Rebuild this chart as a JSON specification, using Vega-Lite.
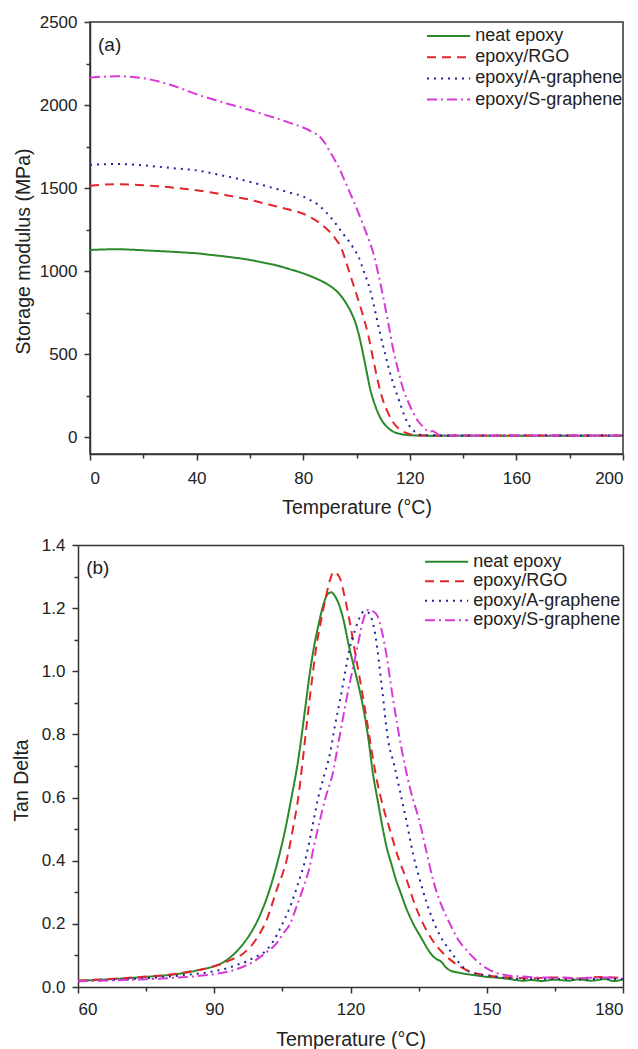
{
  "$schema": "https://vega.github.io/schema/vega-lite/v6.json",
  "background": "white",
  "padding": {"left": 11, "top": 12, "right": 5, "bottom": 5},
  "config": {
    "font": "Liberation Sans",
    "view": {"stroke": "#333333", "strokeWidth": 1.5},
    "axis": {
      "grid": false,
      "domainColor": "#333333",
      "domainWidth": 1.5,
      "tickColor": "#333333",
      "tickWidth": 1.5,
      "tickSize": 6,
      "labelFont": "Liberation Sans",
      "labelFontSize": 17,
      "labelColor": "#222222",
      "titleFont": "Liberation Sans",
      "titleFontSize": 19.5,
      "titleFontWeight": "normal",
      "titleColor": "#222222"
    },
    "axisX": {"labelPadding": 10, "titlePadding": 12},
    "axisY": {"labelPadding": 7},
    "legend": {
      "labelFont": "Liberation Sans",
      "labelFontSize": 18,
      "labelColor": "#222222",
      "symbolType": "M-2.7,0H2.7",
      "symbolSize": 256,
      "symbolStrokeWidth": 2,
      "padding": 0,
      "labelOffset": 17.6,
      "title": null
    }
  },
  "resolve": {"scale": {"color": "independent", "strokeDash": "independent"}},
  "datasets": {
    "sm": [
      {"s":"neat epoxy","T":0,"V":1128},{"s":"neat epoxy","T":5,"V":1131},{"s":"neat epoxy","T":10,"V":1133},{"s":"neat epoxy","T":15,"V":1130},{"s":"neat epoxy","T":20,"V":1126},{"s":"neat epoxy","T":25,"V":1122},{"s":"neat epoxy","T":30,"V":1118},{"s":"neat epoxy","T":35,"V":1113},{"s":"neat epoxy","T":40,"V":1108},{"s":"neat epoxy","T":45,"V":1099},{"s":"neat epoxy","T":50,"V":1090},{"s":"neat epoxy","T":55,"V":1080},{"s":"neat epoxy","T":60,"V":1068},{"s":"neat epoxy","T":65,"V":1052},{"s":"neat epoxy","T":70,"V":1035},{"s":"neat epoxy","T":75,"V":1012},{"s":"neat epoxy","T":80,"V":987},{"s":"neat epoxy","T":84,"V":962},{"s":"neat epoxy","T":87,"V":940},{"s":"neat epoxy","T":90,"V":912},{"s":"neat epoxy","T":92,"V":888},{"s":"neat epoxy","T":94,"V":855},{"s":"neat epoxy","T":96,"V":810},{"s":"neat epoxy","T":98,"V":752},{"s":"neat epoxy","T":99.5,"V":695},{"s":"neat epoxy","T":101,"V":610},{"s":"neat epoxy","T":102.5,"V":500},{"s":"neat epoxy","T":104,"V":380},{"s":"neat epoxy","T":105,"V":300},{"s":"neat epoxy","T":106.5,"V":215},{"s":"neat epoxy","T":108,"V":150},{"s":"neat epoxy","T":110,"V":90},{"s":"neat epoxy","T":112,"V":55},{"s":"neat epoxy","T":114,"V":33},{"s":"neat epoxy","T":116,"V":22},{"s":"neat epoxy","T":118,"V":16},{"s":"neat epoxy","T":120,"V":13},{"s":"neat epoxy","T":125,"V":11},{"s":"neat epoxy","T":130,"V":10},{"s":"neat epoxy","T":140,"V":10},{"s":"neat epoxy","T":150,"V":10},{"s":"neat epoxy","T":160,"V":10},{"s":"neat epoxy","T":170,"V":10},{"s":"neat epoxy","T":180,"V":10},{"s":"neat epoxy","T":190,"V":10},{"s":"neat epoxy","T":200,"V":10},
      {"s":"epoxy/RGO","T":0,"V":1515},{"s":"epoxy/RGO","T":5,"V":1521},{"s":"epoxy/RGO","T":10,"V":1523},{"s":"epoxy/RGO","T":15,"V":1522},{"s":"epoxy/RGO","T":20,"V":1518},{"s":"epoxy/RGO","T":25,"V":1512},{"s":"epoxy/RGO","T":30,"V":1505},{"s":"epoxy/RGO","T":35,"V":1497},{"s":"epoxy/RGO","T":40,"V":1488},{"s":"epoxy/RGO","T":45,"V":1475},{"s":"epoxy/RGO","T":50,"V":1462},{"s":"epoxy/RGO","T":55,"V":1446},{"s":"epoxy/RGO","T":60,"V":1430},{"s":"epoxy/RGO","T":65,"V":1410},{"s":"epoxy/RGO","T":70,"V":1390},{"s":"epoxy/RGO","T":75,"V":1370},{"s":"epoxy/RGO","T":80,"V":1346},{"s":"epoxy/RGO","T":83,"V":1322},{"s":"epoxy/RGO","T":86,"V":1292},{"s":"epoxy/RGO","T":88,"V":1266},{"s":"epoxy/RGO","T":90,"V":1236},{"s":"epoxy/RGO","T":92,"V":1198},{"s":"epoxy/RGO","T":94.4,"V":1135},{"s":"epoxy/RGO","T":96,"V":1060},{"s":"epoxy/RGO","T":98,"V":960},{"s":"epoxy/RGO","T":100,"V":860},{"s":"epoxy/RGO","T":102.5,"V":730},{"s":"epoxy/RGO","T":104.5,"V":610},{"s":"epoxy/RGO","T":106.3,"V":467},{"s":"epoxy/RGO","T":108.8,"V":287},{"s":"epoxy/RGO","T":110,"V":220},{"s":"epoxy/RGO","T":111.3,"V":167},{"s":"epoxy/RGO","T":113,"V":110},{"s":"epoxy/RGO","T":115,"V":66},{"s":"epoxy/RGO","T":117,"V":40},{"s":"epoxy/RGO","T":118.8,"V":26},{"s":"epoxy/RGO","T":121,"V":16},{"s":"epoxy/RGO","T":123,"V":12},{"s":"epoxy/RGO","T":130,"V":11},{"s":"epoxy/RGO","T":140,"V":11},{"s":"epoxy/RGO","T":150,"V":11},{"s":"epoxy/RGO","T":160,"V":11},{"s":"epoxy/RGO","T":170,"V":11},{"s":"epoxy/RGO","T":180,"V":11},{"s":"epoxy/RGO","T":190,"V":11},{"s":"epoxy/RGO","T":200,"V":11},
      {"s":"epoxy/A-graphene","T":0,"V":1640},{"s":"epoxy/A-graphene","T":5,"V":1644},{"s":"epoxy/A-graphene","T":10,"V":1645},{"s":"epoxy/A-graphene","T":15,"V":1643},{"s":"epoxy/A-graphene","T":20,"V":1637},{"s":"epoxy/A-graphene","T":25,"V":1630},{"s":"epoxy/A-graphene","T":30,"V":1622},{"s":"epoxy/A-graphene","T":35,"V":1615},{"s":"epoxy/A-graphene","T":40,"V":1607},{"s":"epoxy/A-graphene","T":45,"V":1592},{"s":"epoxy/A-graphene","T":50,"V":1575},{"s":"epoxy/A-graphene","T":55,"V":1558},{"s":"epoxy/A-graphene","T":60,"V":1538},{"s":"epoxy/A-graphene","T":65,"V":1517},{"s":"epoxy/A-graphene","T":70,"V":1495},{"s":"epoxy/A-graphene","T":75,"V":1473},{"s":"epoxy/A-graphene","T":80,"V":1450},{"s":"epoxy/A-graphene","T":83,"V":1425},{"s":"epoxy/A-graphene","T":86,"V":1395},{"s":"epoxy/A-graphene","T":88,"V":1365},{"s":"epoxy/A-graphene","T":90,"V":1330},{"s":"epoxy/A-graphene","T":92,"V":1290},{"s":"epoxy/A-graphene","T":93.8,"V":1250},{"s":"epoxy/A-graphene","T":95.7,"V":1210},{"s":"epoxy/A-graphene","T":97.6,"V":1170},{"s":"epoxy/A-graphene","T":99,"V":1135},{"s":"epoxy/A-graphene","T":100.7,"V":1090},{"s":"epoxy/A-graphene","T":102.5,"V":1010},{"s":"epoxy/A-graphene","T":105.1,"V":888},{"s":"epoxy/A-graphene","T":107,"V":760},{"s":"epoxy/A-graphene","T":108.8,"V":628},{"s":"epoxy/A-graphene","T":110.7,"V":505},{"s":"epoxy/A-graphene","T":112.6,"V":387},{"s":"epoxy/A-graphene","T":114.5,"V":290},{"s":"epoxy/A-graphene","T":116.3,"V":207},{"s":"epoxy/A-graphene","T":118,"V":130},{"s":"epoxy/A-graphene","T":120,"V":66},{"s":"epoxy/A-graphene","T":122,"V":32},{"s":"epoxy/A-graphene","T":123.8,"V":16},{"s":"epoxy/A-graphene","T":126,"V":12},{"s":"epoxy/A-graphene","T":130,"V":11},{"s":"epoxy/A-graphene","T":140,"V":11},{"s":"epoxy/A-graphene","T":160,"V":11},{"s":"epoxy/A-graphene","T":180,"V":11},{"s":"epoxy/A-graphene","T":200,"V":11},
      {"s":"epoxy/S-graphene","T":0,"V":2165},{"s":"epoxy/S-graphene","T":5,"V":2171},{"s":"epoxy/S-graphene","T":10,"V":2173},{"s":"epoxy/S-graphene","T":15,"V":2170},{"s":"epoxy/S-graphene","T":20,"V":2162},{"s":"epoxy/S-graphene","T":25,"V":2145},{"s":"epoxy/S-graphene","T":30,"V":2122},{"s":"epoxy/S-graphene","T":35,"V":2095},{"s":"epoxy/S-graphene","T":40,"V":2065},{"s":"epoxy/S-graphene","T":45,"V":2040},{"s":"epoxy/S-graphene","T":50,"V":2015},{"s":"epoxy/S-graphene","T":55,"V":1993},{"s":"epoxy/S-graphene","T":60,"V":1970},{"s":"epoxy/S-graphene","T":65,"V":1945},{"s":"epoxy/S-graphene","T":70,"V":1920},{"s":"epoxy/S-graphene","T":75,"V":1893},{"s":"epoxy/S-graphene","T":80,"V":1865},{"s":"epoxy/S-graphene","T":83,"V":1842},{"s":"epoxy/S-graphene","T":86,"V":1812},{"s":"epoxy/S-graphene","T":88,"V":1775},{"s":"epoxy/S-graphene","T":90,"V":1720},{"s":"epoxy/S-graphene","T":92,"V":1665},{"s":"epoxy/S-graphene","T":93.8,"V":1610},{"s":"epoxy/S-graphene","T":95.7,"V":1540},{"s":"epoxy/S-graphene","T":97.6,"V":1470},{"s":"epoxy/S-graphene","T":99.5,"V":1400},{"s":"epoxy/S-graphene","T":101.3,"V":1329},{"s":"epoxy/S-graphene","T":103.2,"V":1250},{"s":"epoxy/S-graphene","T":105.1,"V":1169},{"s":"epoxy/S-graphene","T":106.3,"V":1110},{"s":"epoxy/S-graphene","T":108.1,"V":990},{"s":"epoxy/S-graphene","T":110,"V":846},{"s":"epoxy/S-graphene","T":111.9,"V":690},{"s":"epoxy/S-graphene","T":113.8,"V":527},{"s":"epoxy/S-graphene","T":115.7,"V":400},{"s":"epoxy/S-graphene","T":117.6,"V":287},{"s":"epoxy/S-graphene","T":119.5,"V":210},{"s":"epoxy/S-graphene","T":121.3,"V":148},{"s":"epoxy/S-graphene","T":123,"V":100},{"s":"epoxy/S-graphene","T":125,"V":64},{"s":"epoxy/S-graphene","T":126.5,"V":40},{"s":"epoxy/S-graphene","T":127.6,"V":34},{"s":"epoxy/S-graphene","T":128.5,"V":38},{"s":"epoxy/S-graphene","T":129.5,"V":30},{"s":"epoxy/S-graphene","T":131,"V":15},{"s":"epoxy/S-graphene","T":135,"V":12},{"s":"epoxy/S-graphene","T":140,"V":12},{"s":"epoxy/S-graphene","T":160,"V":12},{"s":"epoxy/S-graphene","T":180,"V":12},{"s":"epoxy/S-graphene","T":200,"V":12}
    ],
    "td": [
      {"s":"neat epoxy","T":60,"V":0.02},{"s":"neat epoxy","T":65,"V":0.023},{"s":"neat epoxy","T":70,"V":0.027},{"s":"neat epoxy","T":75,"V":0.032},{"s":"neat epoxy","T":80,"V":0.038},{"s":"neat epoxy","T":84,"V":0.046},{"s":"neat epoxy","T":87,"V":0.055},{"s":"neat epoxy","T":90,"V":0.066},{"s":"neat epoxy","T":92,"V":0.078},{"s":"neat epoxy","T":94,"V":0.1},{"s":"neat epoxy","T":96,"V":0.13},{"s":"neat epoxy","T":98,"V":0.17},{"s":"neat epoxy","T":100,"V":0.225},{"s":"neat epoxy","T":102,"V":0.3},{"s":"neat epoxy","T":104,"V":0.4},{"s":"neat epoxy","T":105.5,"V":0.49},{"s":"neat epoxy","T":107,"V":0.6},{"s":"neat epoxy","T":108.5,"V":0.72},{"s":"neat epoxy","T":110,"V":0.88},{"s":"neat epoxy","T":111,"V":0.99},{"s":"neat epoxy","T":112,"V":1.08},{"s":"neat epoxy","T":113,"V":1.15},{"s":"neat epoxy","T":114,"V":1.21},{"s":"neat epoxy","T":115,"V":1.245},{"s":"neat epoxy","T":115.8,"V":1.25},{"s":"neat epoxy","T":116.5,"V":1.24},{"s":"neat epoxy","T":117.5,"V":1.21},{"s":"neat epoxy","T":118.5,"V":1.16},{"s":"neat epoxy","T":119.5,"V":1.09},{"s":"neat epoxy","T":121,"V":1.0},{"s":"neat epoxy","T":122,"V":0.94},{"s":"neat epoxy","T":123,"V":0.87},{"s":"neat epoxy","T":124,"V":0.78},{"s":"neat epoxy","T":125,"V":0.67},{"s":"neat epoxy","T":126,"V":0.59},{"s":"neat epoxy","T":127,"V":0.51},{"s":"neat epoxy","T":128,"V":0.44},{"s":"neat epoxy","T":129,"V":0.39},{"s":"neat epoxy","T":130,"V":0.34},{"s":"neat epoxy","T":131,"V":0.3},{"s":"neat epoxy","T":132,"V":0.26},{"s":"neat epoxy","T":133,"V":0.225},{"s":"neat epoxy","T":134,"V":0.195},{"s":"neat epoxy","T":135,"V":0.17},{"s":"neat epoxy","T":136,"V":0.145},{"s":"neat epoxy","T":137,"V":0.12},{"s":"neat epoxy","T":138,"V":0.1},{"s":"neat epoxy","T":139,"V":0.088},{"s":"neat epoxy","T":140,"V":0.08},{"s":"neat epoxy","T":141,"V":0.062},{"s":"neat epoxy","T":142,"V":0.052},{"s":"neat epoxy","T":144,"V":0.045},{"s":"neat epoxy","T":146,"V":0.04},{"s":"neat epoxy","T":148,"V":0.036},{"s":"neat epoxy","T":150,"V":0.032},{"s":"neat epoxy","T":152,"V":0.03},{"s":"neat epoxy","T":155,"V":0.025},{"s":"neat epoxy","T":158,"V":0.02},{"s":"neat epoxy","T":160,"V":0.022},{"s":"neat epoxy","T":162,"V":0.019},{"s":"neat epoxy","T":165,"V":0.023},{"s":"neat epoxy","T":168,"V":0.02},{"s":"neat epoxy","T":170,"V":0.024},{"s":"neat epoxy","T":173,"V":0.02},{"s":"neat epoxy","T":176,"V":0.025},{"s":"neat epoxy","T":178,"V":0.019},{"s":"neat epoxy","T":180,"V":0.024},
      {"s":"epoxy/RGO","T":60,"V":0.02},{"s":"epoxy/RGO","T":65,"V":0.024},{"s":"epoxy/RGO","T":70,"V":0.028},{"s":"epoxy/RGO","T":75,"V":0.033},{"s":"epoxy/RGO","T":80,"V":0.039},{"s":"epoxy/RGO","T":85,"V":0.05},{"s":"epoxy/RGO","T":88,"V":0.058},{"s":"epoxy/RGO","T":90,"V":0.066},{"s":"epoxy/RGO","T":92,"V":0.075},{"s":"epoxy/RGO","T":93.5,"V":0.085},{"s":"epoxy/RGO","T":96.4,"V":0.106},{"s":"epoxy/RGO","T":99.3,"V":0.153},{"s":"epoxy/RGO","T":101.5,"V":0.211},{"s":"epoxy/RGO","T":103.7,"V":0.306},{"s":"epoxy/RGO","T":105.9,"V":0.4},{"s":"epoxy/RGO","T":107.4,"V":0.507},{"s":"epoxy/RGO","T":108.5,"V":0.6},{"s":"epoxy/RGO","T":109.5,"V":0.72},{"s":"epoxy/RGO","T":110.5,"V":0.85},{"s":"epoxy/RGO","T":111.5,"V":0.97},{"s":"epoxy/RGO","T":112.5,"V":1.08},{"s":"epoxy/RGO","T":113.5,"V":1.16},{"s":"epoxy/RGO","T":114.5,"V":1.23},{"s":"epoxy/RGO","T":115.5,"V":1.29},{"s":"epoxy/RGO","T":116.3,"V":1.315},{"s":"epoxy/RGO","T":117,"V":1.31},{"s":"epoxy/RGO","T":117.8,"V":1.29},{"s":"epoxy/RGO","T":118.8,"V":1.23},{"s":"epoxy/RGO","T":119.9,"V":1.152},{"s":"epoxy/RGO","T":121,"V":1.06},{"s":"epoxy/RGO","T":122.1,"V":0.972},{"s":"epoxy/RGO","T":123.2,"V":0.88},{"s":"epoxy/RGO","T":124.3,"V":0.78},{"s":"epoxy/RGO","T":125.8,"V":0.655},{"s":"epoxy/RGO","T":127.2,"V":0.57},{"s":"epoxy/RGO","T":128.7,"V":0.497},{"s":"epoxy/RGO","T":130.5,"V":0.41},{"s":"epoxy/RGO","T":132.4,"V":0.338},{"s":"epoxy/RGO","T":134.2,"V":0.26},{"s":"epoxy/RGO","T":136,"V":0.2},{"s":"epoxy/RGO","T":138.2,"V":0.145},{"s":"epoxy/RGO","T":140.4,"V":0.107},{"s":"epoxy/RGO","T":143,"V":0.075},{"s":"epoxy/RGO","T":145.6,"V":0.053},{"s":"epoxy/RGO","T":148,"V":0.042},{"s":"epoxy/RGO","T":151,"V":0.035},{"s":"epoxy/RGO","T":155,"V":0.03},{"s":"epoxy/RGO","T":160,"V":0.028},{"s":"epoxy/RGO","T":165,"V":0.03},{"s":"epoxy/RGO","T":170,"V":0.027},{"s":"epoxy/RGO","T":175,"V":0.032},{"s":"epoxy/RGO","T":178,"V":0.03},{"s":"epoxy/RGO","T":180,"V":0.028},
      {"s":"epoxy/A-graphene","T":60,"V":0.018},{"s":"epoxy/A-graphene","T":70,"V":0.024},{"s":"epoxy/A-graphene","T":80,"V":0.033},{"s":"epoxy/A-graphene","T":85,"V":0.04},{"s":"epoxy/A-graphene","T":90,"V":0.05},{"s":"epoxy/A-graphene","T":93,"V":0.06},{"s":"epoxy/A-graphene","T":95,"V":0.07},{"s":"epoxy/A-graphene","T":97,"V":0.08},{"s":"epoxy/A-graphene","T":99,"V":0.095},{"s":"epoxy/A-graphene","T":101,"V":0.11},{"s":"epoxy/A-graphene","T":103,"V":0.145},{"s":"epoxy/A-graphene","T":105,"V":0.2},{"s":"epoxy/A-graphene","T":107,"V":0.265},{"s":"epoxy/A-graphene","T":108.5,"V":0.33},{"s":"epoxy/A-graphene","T":110,"V":0.4},{"s":"epoxy/A-graphene","T":111.5,"V":0.5},{"s":"epoxy/A-graphene","T":112.9,"V":0.6},{"s":"epoxy/A-graphene","T":114.2,"V":0.67},{"s":"epoxy/A-graphene","T":115.5,"V":0.74},{"s":"epoxy/A-graphene","T":116.6,"V":0.83},{"s":"epoxy/A-graphene","T":117.7,"V":0.909},{"s":"epoxy/A-graphene","T":118.8,"V":0.995},{"s":"epoxy/A-graphene","T":119.9,"V":1.078},{"s":"epoxy/A-graphene","T":121,"V":1.13},{"s":"epoxy/A-graphene","T":122,"V":1.17},{"s":"epoxy/A-graphene","T":123,"V":1.19},{"s":"epoxy/A-graphene","T":124,"V":1.185},{"s":"epoxy/A-graphene","T":125.4,"V":1.12},{"s":"epoxy/A-graphene","T":126.9,"V":0.951},{"s":"epoxy/A-graphene","T":128.3,"V":0.78},{"s":"epoxy/A-graphene","T":129.5,"V":0.71},{"s":"epoxy/A-graphene","T":130.9,"V":0.62},{"s":"epoxy/A-graphene","T":132.4,"V":0.52},{"s":"epoxy/A-graphene","T":133.8,"V":0.42},{"s":"epoxy/A-graphene","T":135.3,"V":0.338},{"s":"epoxy/A-graphene","T":136.7,"V":0.27},{"s":"epoxy/A-graphene","T":138.2,"V":0.21},{"s":"epoxy/A-graphene","T":140,"V":0.155},{"s":"epoxy/A-graphene","T":141.9,"V":0.116},{"s":"epoxy/A-graphene","T":144,"V":0.075},{"s":"epoxy/A-graphene","T":146.3,"V":0.048},{"s":"epoxy/A-graphene","T":148.5,"V":0.04},{"s":"epoxy/A-graphene","T":151,"V":0.035},{"s":"epoxy/A-graphene","T":155,"V":0.028},{"s":"epoxy/A-graphene","T":160,"V":0.025},{"s":"epoxy/A-graphene","T":165,"V":0.026},{"s":"epoxy/A-graphene","T":170,"V":0.024},{"s":"epoxy/A-graphene","T":175,"V":0.026},{"s":"epoxy/A-graphene","T":180,"V":0.025},
      {"s":"epoxy/S-graphene","T":60,"V":0.018},{"s":"epoxy/S-graphene","T":70,"V":0.022},{"s":"epoxy/S-graphene","T":80,"V":0.028},{"s":"epoxy/S-graphene","T":85,"V":0.033},{"s":"epoxy/S-graphene","T":88,"V":0.037},{"s":"epoxy/S-graphene","T":91,"V":0.043},{"s":"epoxy/S-graphene","T":94.2,"V":0.053},{"s":"epoxy/S-graphene","T":96.5,"V":0.065},{"s":"epoxy/S-graphene","T":98.6,"V":0.08},{"s":"epoxy/S-graphene","T":101,"V":0.105},{"s":"epoxy/S-graphene","T":103.7,"V":0.138},{"s":"epoxy/S-graphene","T":105.2,"V":0.17},{"s":"epoxy/S-graphene","T":106.7,"V":0.2},{"s":"epoxy/S-graphene","T":108,"V":0.25},{"s":"epoxy/S-graphene","T":109.5,"V":0.31},{"s":"epoxy/S-graphene","T":111,"V":0.38},{"s":"epoxy/S-graphene","T":112,"V":0.45},{"s":"epoxy/S-graphene","T":113.1,"V":0.518},{"s":"epoxy/S-graphene","T":114.5,"V":0.6},{"s":"epoxy/S-graphene","T":116.1,"V":0.677},{"s":"epoxy/S-graphene","T":117.3,"V":0.77},{"s":"epoxy/S-graphene","T":118.4,"V":0.856},{"s":"epoxy/S-graphene","T":119.5,"V":0.94},{"s":"epoxy/S-graphene","T":120.6,"V":1.014},{"s":"epoxy/S-graphene","T":121.7,"V":1.09},{"s":"epoxy/S-graphene","T":122.8,"V":1.162},{"s":"epoxy/S-graphene","T":123.9,"V":1.194},{"s":"epoxy/S-graphene","T":125,"V":1.19},{"s":"epoxy/S-graphene","T":126,"V":1.173},{"s":"epoxy/S-graphene","T":127.6,"V":1.078},{"s":"epoxy/S-graphene","T":129.4,"V":0.909},{"s":"epoxy/S-graphene","T":131.3,"V":0.75},{"s":"epoxy/S-graphene","T":133.1,"V":0.63},{"s":"epoxy/S-graphene","T":135.3,"V":0.518},{"s":"epoxy/S-graphene","T":136.7,"V":0.43},{"s":"epoxy/S-graphene","T":138.2,"V":0.338},{"s":"epoxy/S-graphene","T":140,"V":0.26},{"s":"epoxy/S-graphene","T":141.9,"V":0.2},{"s":"epoxy/S-graphene","T":143.7,"V":0.15},{"s":"epoxy/S-graphene","T":145.6,"V":0.116},{"s":"epoxy/S-graphene","T":148,"V":0.08},{"s":"epoxy/S-graphene","T":150,"V":0.059},{"s":"epoxy/S-graphene","T":152,"V":0.045},{"s":"epoxy/S-graphene","T":154.4,"V":0.037},{"s":"epoxy/S-graphene","T":158,"V":0.033},{"s":"epoxy/S-graphene","T":162,"V":0.03},{"s":"epoxy/S-graphene","T":166,"V":0.03},{"s":"epoxy/S-graphene","T":170,"V":0.028},{"s":"epoxy/S-graphene","T":175,"V":0.03},{"s":"epoxy/S-graphene","T":178,"V":0.03},{"s":"epoxy/S-graphene","T":180,"V":0.028}
    ],
    "tagA": [{"tag": "(a)"}],
    "tagB": [{"tag": "(b)"}]
  },
  "vconcat": [
    {
      "width": 533,
      "height": 432,
      "resolve": {"axis": {"x": "independent", "y": "independent"}},
      "layer": [
        {
          "data": {"name": "sm"},
          "mark": {"type": "line", "strokeWidth": 2, "interpolate": "monotone"},
          "encoding": {
            "x": {"field": "T", "type": "quantitative", "scale": {"domain": [0, 200], "nice": false, "zero": false},
                  "axis": {"orient": "bottom", "values": [0, 40, 80, 120, 160, 200], "title": "Temperature (°C)"}},
            "y": {"field": "V", "type": "quantitative", "scale": {"domain": [-100, 2500], "nice": false, "zero": false},
                  "axis": {"orient": "left", "values": [0, 500, 1000, 1500, 2000, 2500], "format": "d", "title": "Storage modulus (MPa)", "titlePadding": 5.5, "titleY": 229}},
            "color": {"field": "s", "type": "nominal",
                      "scale": {"domain": ["neat epoxy", "epoxy/RGO", "epoxy/A-graphene", "epoxy/S-graphene"], "range": ["#2a8a2a", "#e3262c", "#22229c", "#d83ad8"]},
                      "legend": {"orient": "none", "legendX": 349.6, "legendY": 5, "rowPadding": 3.2}},
            "strokeDash": {"field": "s", "type": "nominal",
                      "scale": {"domain": ["neat epoxy", "epoxy/RGO", "epoxy/A-graphene", "epoxy/S-graphene"], "range": [[1, 0], [9, 6], [2, 5], [10, 4, 2, 4]]},
                      "legend": {"orient": "none", "legendX": 349.6, "legendY": 5, "rowPadding": 3.2}},
            "order": {"field": "T", "type": "quantitative"}
          }
        },
        {
          "data": {"name": "sm"},
          "mark": {"type": "point", "opacity": 0},
          "encoding": {
            "x": {"field": "T", "type": "quantitative",
                  "axis": {"orient": "bottom", "values": [20, 60, 100, 140, 180], "labels": false, "domain": false, "tickSize": 4, "title": null}},
            "y": {"field": "V", "type": "quantitative",
                  "axis": {"orient": "left", "values": [250, 750, 1250, 1750, 2250], "labels": false, "domain": false, "tickSize": 4, "title": null}}
          }
        },
        {
          "data": {"name": "tagA"},
          "mark": {"type": "text", "align": "left", "baseline": "middle", "fontSize": 19, "color": "#222222"},
          "encoding": {
            "x": {"datum": 3, "type": "quantitative", "axis": null},
            "y": {"datum": 2361, "type": "quantitative", "axis": null},
            "text": {"field": "tag"}
          }
        }
      ]
    },
    {
      "width": 533,
      "height": 442,
      "view": {"stroke": null},
      "resolve": {"axis": {"x": "independent", "y": "independent"}},
      "layer": [
        {
          "data": {"name": "td"},
          "mark": {"type": "line", "strokeWidth": 2, "interpolate": "monotone"},
          "encoding": {
            "x": {"field": "T", "type": "quantitative", "scale": {"domain": [60, 180], "range": [-12, 533], "nice": false, "zero": false},
                  "axis": {"orient": "bottom", "values": [60, 90, 120, 150, 180], "title": "Temperature (°C)", "titleX": 260.5, "labelPadding": 8, "titlePadding": 13}},
            "y": {"field": "V", "type": "quantitative", "scale": {"domain": [0, 1.4], "nice": false, "zero": false},
                  "axis": {"orient": "left", "offset": 12, "values": [0, 0.2, 0.4, 0.6, 0.8, 1.0, 1.2, 1.4], "format": ".1f", "title": "Tan Delta", "titlePadding": 10, "titleY": 235}},
            "color": {"field": "s", "type": "nominal",
                      "scale": {"domain": ["neat epoxy", "epoxy/RGO", "epoxy/A-graphene", "epoxy/S-graphene"], "range": ["#2a8a2a", "#e3262c", "#22229c", "#d83ad8"]},
                      "legend": {"orient": "none", "legendX": 347.6, "legendY": 7.7, "rowPadding": 1.5}},
            "strokeDash": {"field": "s", "type": "nominal",
                      "scale": {"domain": ["neat epoxy", "epoxy/RGO", "epoxy/A-graphene", "epoxy/S-graphene"], "range": [[1, 0], [9, 6], [2, 5], [10, 4, 2, 4]]},
                      "legend": {"orient": "none", "legendX": 347.6, "legendY": 7.7, "rowPadding": 1.5}},
            "order": {"field": "T", "type": "quantitative"}
          }
        },
        {
          "data": {"name": "td"},
          "mark": {"type": "point", "opacity": 0},
          "encoding": {
            "x": {"field": "T", "type": "quantitative",
                  "axis": {"orient": "bottom", "values": [75, 105, 135, 165], "labels": false, "domain": false, "tickSize": 4, "title": null}},
            "y": {"field": "V", "type": "quantitative",
                  "axis": {"orient": "left", "offset": 12, "values": [0.1, 0.3, 0.5, 0.7, 0.9, 1.1, 1.3], "labels": false, "domain": false, "tickSize": 4, "title": null}}
          }
        },
        {
          "data": {"name": "td"},
          "mark": {"type": "point", "opacity": 0},
          "encoding": {
            "x": {"field": "T", "type": "quantitative",
                  "axis": {"orient": "top", "ticks": false, "labels": false, "domain": true, "title": null}},
            "y": {"field": "V", "type": "quantitative",
                  "axis": {"orient": "right", "ticks": false, "labels": false, "domain": true, "title": null}}
          }
        },
        {
          "data": {"name": "tagB"},
          "mark": {"type": "text", "align": "left", "baseline": "middle", "fontSize": 19, "color": "#222222"},
          "encoding": {
            "x": {"datum": 61.8, "type": "quantitative", "axis": null},
            "y": {"datum": 1.327, "type": "quantitative", "axis": null},
            "text": {"field": "tag"}
          }
        }
      ]
    }
  ],
  "spacing": 18
}
